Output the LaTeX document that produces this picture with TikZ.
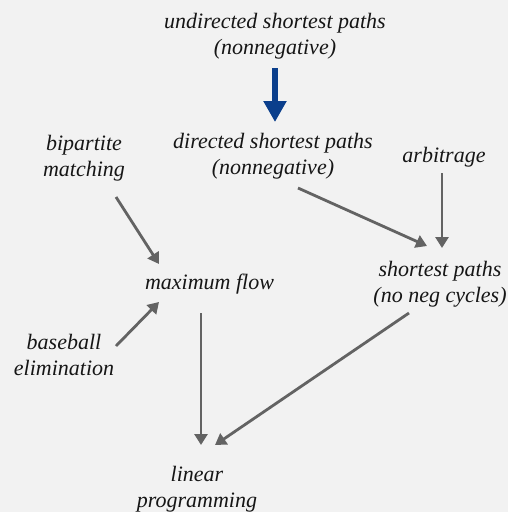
\documentclass[tikz,border=0pt]{standalone}
\usepackage{fontspec}
\setmainfont{Liberation Serif}[ItalicFont=Liberation Serif Italic]
\usetikzlibrary{arrows.meta}
\definecolor{bg}{HTML}{F2F2F2}
\definecolor{arr}{HTML}{636363}
\definecolor{navy}{HTML}{0B3F8C}
\definecolor{txt}{HTML}{161616}
\begin{document}
\begin{tikzpicture}[x=1pt,y=-1pt,
  lbl/.style={font=\fontsize{22}{26}\selectfont\itshape, align=center, inner sep=0pt, text=txt},
  garrow/.style={draw=arr, line width=2.8pt, -{Triangle[width=13pt,length=11pt]}},
  barrow/.style={draw=navy, line width=6pt, -{Triangle[width=22pt,length=21pt]}}]
\fill[bg] (0,0) rectangle (508,512);
\useasboundingbox (0,0) rectangle (508,512);
\node[lbl] (und) at (275,36.5) {undirected shortest paths\\(nonnegative)};
\node[lbl] (dir) at (273,156.5) {directed shortest paths\\(nonnegative)};
\node[lbl] (bip) at (84,158.5) {bipartite\\matching};
\node[lbl] (arb) at (444,157) {arbitrage};
\node[lbl] (mf) at (209.5,284) {maximum flow};
\node[lbl] (sp) at (440,284.5) {shortest paths\\(no neg cycles)};
\node[lbl] (bb) at (64,355) {baseball\\elimination};
\node[lbl] (lp) at (197,489.5) {linear\\programming};
\coordinate (a1s) at (275,68); \coordinate (a1e) at (275,122);
\coordinate (a2s) at (298,188); \coordinate (a2e) at (427,246);
\coordinate (a3s) at (442,173); \coordinate (a3e) at (442,248);
\coordinate (a4s) at (116,197); \coordinate (a4e) at (159,264);
\coordinate (a5s) at (116,346); \coordinate (a5e) at (159,302);
\coordinate (a6s) at (201,313); \coordinate (a6e) at (201,445);
\coordinate (a7s) at (409,313); \coordinate (a7e) at (215,445);
\draw[barrow] (a1s) -- (a1e);
\draw[garrow] (a2s) -- (a2e);
\draw[garrow] (a3s) -- (a3e);
\draw[garrow] (a4s) -- (a4e);
\draw[garrow] (a5s) -- (a5e);
\draw[garrow] (a6s) -- (a6e);
\draw[garrow] (a7s) -- (a7e);
\end{tikzpicture}
\end{document}
